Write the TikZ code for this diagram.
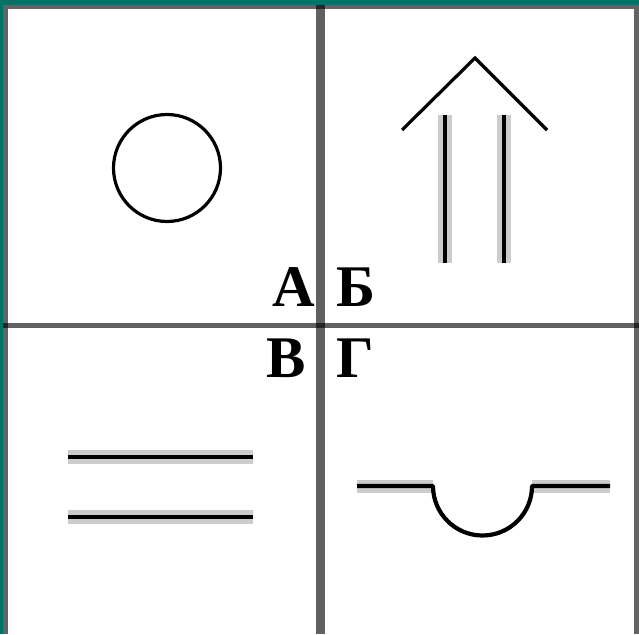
\documentclass[tikz,border=0pt]{standalone}
\usepackage{fontspec}
\setmainfont{Liberation Serif}
\definecolor{tealbg}{RGB}{0,114,104}
\definecolor{framegray}{RGB}{99,99,99}
\definecolor{halo}{RGB}{204,204,204}
\tikzset{
  frame/.style={fill=framegray, draw=none},
  cross/.style={fill=black, fill opacity=0.62, draw=none},
  ink/.style={draw=black, line width=3.2pt},
  haloline/.style={draw=halo, line width=14pt},
  coreline/.style={draw=black, line width=4.5pt},
  lbl/.style={inner sep=0pt, anchor=base, font=\fontsize{59}{59}\selectfont\bfseries}
}
\begin{document}
\begin{tikzpicture}[x=1pt, y=-1pt]
\useasboundingbox (0,0) rectangle (639,634);
% background
\fill[white] (0,0) rectangle (639,634);
\fill[tealbg] (0,0) rectangle (639,5);
\fill[tealbg] (0,0) rectangle (3,634);
% frame
\path[frame] (3,5) rectangle (639,9);
\path[frame] (3,5) rectangle (8,634);
\path[frame] (634,5) rectangle (639,634);
% crossing lines
\path[cross] (316,5) rectangle (325,634);
\path[cross] (3,323) rectangle (639,328);
% A: circle
\draw[ink] (167,168) circle (53.5);
% B: arrow
\draw[ink] (402,130) -- (475,58) -- (547,130);
\coordinate (bl1) at (445,115); \coordinate (bl2) at (445,263);
\coordinate (br1) at (504,115); \coordinate (br2) at (504,263);
\draw[draw=halo, line width=14pt] (bl1) -- (bl2);
\draw[draw=halo, line width=14pt] (br1) -- (br2);
\draw[draw=black, line width=4pt] (bl1) -- (bl2);
\draw[draw=black, line width=4pt] (br1) -- (br2);
% V: double lines
\coordinate (v1a) at (68,457); \coordinate (v1b) at (253,457);
\coordinate (v2a) at (68,517); \coordinate (v2b) at (253,517);
\draw[haloline] (v1a) -- (v1b);
\draw[haloline] (v2a) -- (v2b);
\draw[coreline] (v1a) -- (v1b);
\draw[coreline] (v2a) -- (v2b);
% G: line with dip
\coordinate (g1) at (357,486); \coordinate (g2) at (433,486);
\coordinate (g3) at (532,486); \coordinate (g4) at (610,486);
\draw[haloline, line width=13pt] (g1) -- (g2);
\draw[haloline, line width=13pt] (g3) -- (g4);
\draw[draw=black, line width=4.2pt, line join=round] (g1) -- (g2) arc[start angle=180, end angle=360, x radius=49.5, y radius=-49.5] -- (g4);
% labels
\node[lbl] (la) at (294,306) {А};
\node[lbl] (lb) at (356,306) {Б};
\node[lbl] (lv) at (286,377) {В};
\node[lbl] (lg) at (355,377) {Г};
\end{tikzpicture}
\end{document}
